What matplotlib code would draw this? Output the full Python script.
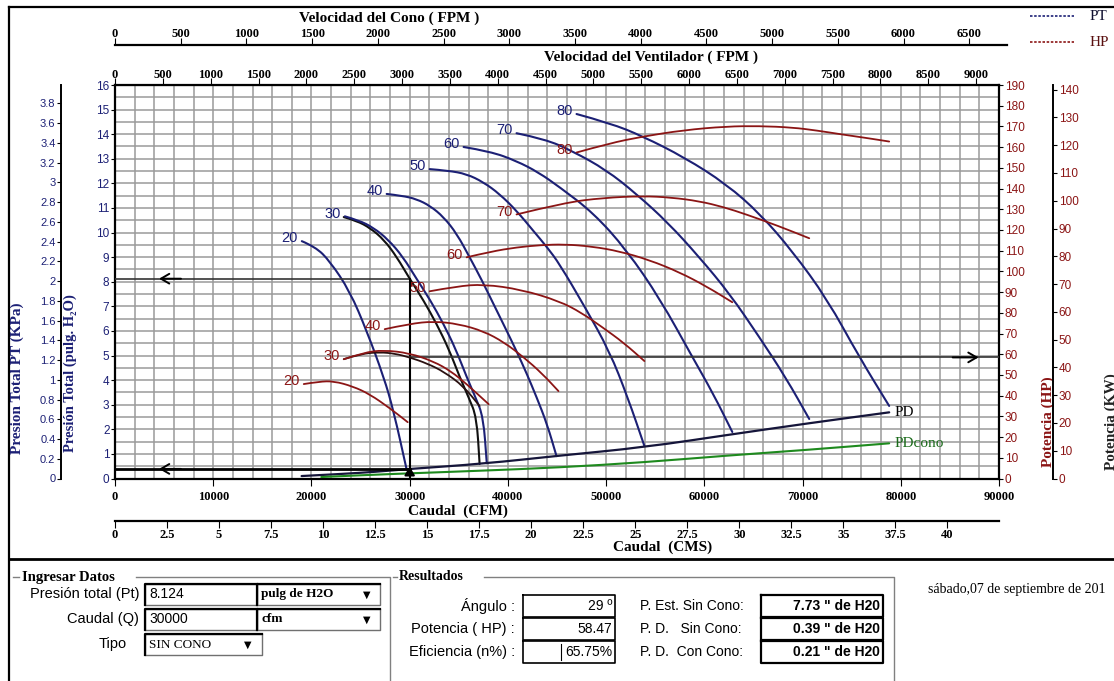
import numpy as np
import matplotlib.pyplot as plt
from matplotlib.path import Path
from matplotlib.patches import PathPatch

# curvas de presion total: caudal (cfm) vs presion (pulg H2O)
pt20_q = [19020, 20400, 21870, 23900, 25630, 27360, 28370, 29700]
pt20_p = [9.65, 9.42, 8.84, 7.62, 6.00, 4.13, 2.74, 0.35]
pt29_q = [23290, 24600, 26000, 27400, 28700, 30000, 31400, 32750, 34000, 35090, 36000, 36820, 37120]
pt29_p = [10.63, 10.48, 10.18, 9.70, 9.00, 8.12, 7.25, 6.28, 5.25, 4.13, 3.30, 2.50, 0.59]
pt30_q = [23400, 24800, 26300, 27800, 29300, 30700, 32100, 33450, 34700, 35800, 36700, 37500, 37850]
pt30_p = [10.66, 10.50, 10.20, 9.72, 9.02, 8.12, 7.25, 6.28, 5.25, 4.13, 3.30, 2.50, 0.62]
pt40_q = [27660, 29200, 30710, 32100, 33460, 34800, 36100, 37300, 38540, 39700, 40880, 41900, 42920, 44000, 44950]
pt40_p = [11.57, 11.50, 11.36, 11.08, 10.63, 9.95, 9.00, 8.10, 7.09, 6.15, 5.18, 4.28, 3.31, 2.20, 0.91]
pt50_q = [32040, 33900, 35800, 37500, 39150, 40900, 42610, 44000, 45260, 47800, 50340, 52200, 53900]
pt50_p = [12.58, 12.52, 12.38, 12.05, 11.57, 10.88, 10.06, 9.40, 8.72, 7.00, 5.18, 3.30, 1.32]
pt60_q = [35490, 38200, 40880, 43100, 45260, 48700, 52070, 55500, 58780, 60900, 62850]
pt60_p = [13.48, 13.30, 12.91, 12.45, 11.85, 10.80, 9.30, 7.30, 4.94, 3.45, 1.89]
pt70_q = [40880, 43800, 46580, 50000, 53090, 56300, 59490, 62600, 65600, 68300, 70680]
pt70_p = [14.04, 13.80, 13.31, 12.55, 11.57, 10.40, 9.00, 7.50, 5.75, 4.10, 2.42]
pt80_q = [46990, 50400, 53700, 58000, 62240, 65700, 68950, 72500, 75770, 78820]
pt80_p = [14.82, 14.45, 13.92, 13.05, 11.97, 10.75, 9.25, 7.30, 4.94, 2.95]

# curvas de potencia: caudal (cfm) vs HP
hp20_q = [19220, 20800, 22270, 24200, 25930, 27970, 29800]
hp20_v = [45.6, 46.8, 47.0, 44.5, 40.7, 34.0, 27.2]
hp29_q = [23290, 25000, 26950, 28500, 30000, 31800, 33500, 35500, 37120]
hp29_v = [57.6, 60.2, 61.0, 60.3, 58.5, 55.5, 51.5, 44.5, 35.0]
hp30_q = [23290, 25300, 27360, 30000, 32440, 34200, 35800, 38040]
hp30_v = [57.6, 60.8, 62.0, 60.5, 56.5, 51.8, 45.6, 35.9]
hp40_q = [27460, 30000, 32440, 35000, 37530, 39600, 41600, 43500, 45150]
hp40_v = [72.1, 74.7, 75.9, 74.6, 71.1, 65.8, 58.6, 50.6, 42.2]
hp50_q = [32040, 34800, 37530, 41400, 45260, 47500, 49630, 51800, 53900]
hp50_v = [90.4, 92.8, 93.8, 91.2, 85.6, 80.0, 73.0, 65.5, 56.7]
hp60_q = [35800, 38300, 40880, 43300, 45770, 48600, 51360, 54400, 57460, 60200, 62850]
hp60_v = [106.8, 109.6, 111.6, 112.7, 113.1, 112.0, 109.7, 105.5, 99.6, 92.8, 85.1]
hp70_q = [40880, 45770, 49700, 53700, 56600, 59490, 62000, 64270, 67500, 70680]
hp70_v = [127.5, 133.2, 135.5, 136.4, 135.7, 133.9, 131.0, 127.5, 122.0, 116.0]
hp80_q = [46990, 50300, 53700, 57900, 62240, 65600, 68950, 71500, 74040, 76400, 78820]
hp80_v = [157.4, 161.8, 165.1, 168.2, 170.0, 170.2, 169.5, 168.0, 166.1, 164.5, 162.7]

# presion dinamica sin cono / con cono
pd_q = [19000, 22880, 26500, 30000, 37500, 45260, 53900, 62850, 70680, 78820]
pd_p = [0.10, 0.18, 0.27, 0.39, 0.60, 0.93, 1.27, 1.80, 2.25, 2.69]
pdc_q = [21000, 25500, 30000, 37500, 45260, 53900, 62240, 70680, 78820]
pdc_p = [0.06, 0.14, 0.21, 0.32, 0.45, 0.66, 0.93, 1.17, 1.43]

# punto de operacion
q_op = 30000
pt_op = 8.124
hp_op = 58.47
pd_op = 0.39

# formulario
entrada_labels = ['Presión total (Pt)', 'Caudal (Q)', 'Tipo']
entrada_values = ['8.124', '30000', 'SIN CONO']
entrada_units = ['pulg de H2O', 'cfm']
result_labels = ['Ángulo :', 'Potencia ( HP) :', 'Eficiencia (n%) :']
result_values = ['29 º', '58.47', '65.75%']
presion_labels = ['P. Est. Sin Cono:', 'P. D.   Sin Cono:', 'P. D.  Con Cono:']
presion_values = ['7.73 " de H20', '0.39 " de H20', '0.21 " de H20']
fecha = 'sábado,07 de septiembre de 201'

IN_TO_KPA = 0.249089
HP_TO_KW = 0.7457
CFM_TO_CMS = 0.000471947
AREA_VENT = 9.74   # ft2
AREA_CONO = 13.38  # ft2

NAVY = '#1c2075'
RED = '#8b1515'
GREEN = '#1e8a1e'
SERIF = 'Liberation Serif'
SANS = 'Liberation Sans'

W, H = 1114, 681
fig = plt.figure(figsize=(W / 100, H / 100), dpi=100)
fig.patch.set_facecolor('white')


def rect(x0, y0, x1, y1):
    return [x0 / W, 1 - y1 / H, (x1 - x0) / W, (y1 - y0) / H]


def smooth(axis, q, v, **kw):
    # curva suave por los puntos medios (bezier cuadratica)
    pts = list(zip(q, v))
    verts = [pts[0]]
    codes = [Path.MOVETO]
    for i in range(1, len(pts) - 1):
        mid = ((pts[i][0] + pts[i + 1][0]) / 2, (pts[i][1] + pts[i + 1][1]) / 2)
        verts += [pts[i], mid]
        codes += [Path.CURVE3, Path.CURVE3]
    verts.append(pts[-1])
    codes.append(Path.LINETO)
    axis.add_patch(PathPatch(Path(verts, codes), fill=False, capstyle='round', **kw))


ui = fig.add_axes([0, 0, 1, 1], zorder=0)
ui.set_xlim(0, W)
ui.set_ylim(H, 0)
ui.axis('off')

L, R, T, B = 115, 999, 85, 478.5

# ---- grafico principal ----
ax = fig.add_axes(rect(L, T, R, B), zorder=3)
ax.set_xlim(0, 90000)
ax.set_ylim(0, 16)
ax.set_xticks(np.arange(0, 90001, 10000))
ax.set_xticks(np.arange(0, 90001, 2000), minor=True)
ax.set_yticks(np.arange(0, 17, 1))
ax.set_yticks(np.arange(0, 16.01, 0.5), minor=True)
ax.grid(which='both', color='#9a9a9a', lw=1.1, zorder=0)
ax.set_axisbelow(True)
ax.tick_params(which='minor', length=0)
ax.set_xticklabels([str(v) for v in range(0, 90001, 10000)], fontfamily=SERIF,
                   fontweight='bold', fontsize=9)
ax.set_yticklabels([str(v) for v in range(17)], fontfamily=SANS, fontsize=8.5, color=NAVY)
ax.tick_params(axis='x', length=5, pad=4)
ax.tick_params(axis='y', length=3, pad=1)
for s in ax.spines.values():
    s.set_linewidth(1.6)

pt_curves = [(20, pt20_q, pt20_p), (29, pt29_q, pt29_p), (30, pt30_q, pt30_p),
             (40, pt40_q, pt40_p), (50, pt50_q, pt50_p), (60, pt60_q, pt60_p),
             (70, pt70_q, pt70_p), (80, pt80_q, pt80_p)]
for ang, q, p in pt_curves:
    c = '#111111' if ang == 29 else NAVY
    smooth(ax, q, p, edgecolor=c, lw=1.5, zorder=4)
    if ang != 29:
        ax.annotate(str(ang), (q[0], p[0]), xytext=(-3, 2), textcoords='offset points',
                    ha='right', va='center', fontsize=10.5, color=NAVY, family=SANS)

smooth(ax, pd_q, pd_p, edgecolor='#15153a', lw=1.6, zorder=4)
smooth(ax, pdc_q, pdc_p, edgecolor=GREEN, lw=1.5, zorder=4)
ax.text(pd_q[-1] + 500, pd_p[-1], 'PD', fontsize=11, family=SERIF, va='center', zorder=5)
ax.text(pdc_q[-1] + 500, pdc_p[-1], 'PDcono', fontsize=11, family=SERIF, color='#1a6a1a',
        va='center', zorder=5)

# lineas del punto de operacion
ax.plot([0, q_op], [pt_op, pt_op], color='#333333', lw=1.2, zorder=5)
ax.plot([0, q_op], [pd_op, pd_op], color='k', lw=2, zorder=5)
ax.plot([q_op, q_op], [0, pt_op], color='k', lw=1.5, zorder=5)
arrow = dict(arrowstyle='->,head_length=0.6,head_width=0.35', lw=1.4, color='k')
ax.annotate('', xy=(4200, pt_op), xytext=(7000, pt_op), arrowprops=arrow, zorder=6)
ax.annotate('', xy=(4200, pd_op), xytext=(7000, pd_op), arrowprops=arrow, zorder=6)
ax.annotate('', xy=(q_op, 0.6), xytext=(q_op, 0.02),
            arrowprops=dict(arrowstyle='-|>,head_length=0.5,head_width=0.3', lw=1.5, color='k'),
            zorder=6)

# ---- eje HP ----
axh = ax.twinx()
axh.set_zorder(4)
axh.set_ylim(0, 190)
axh.set_yticks(np.arange(0, 191, 10))
axh.set_yticklabels([str(v) for v in range(0, 191, 10)], fontfamily=SANS, fontsize=8.5, color=RED)
axh.tick_params(axis='y', length=3, pad=1)
for s in axh.spines.values():
    s.set_visible(False)
hp_curves = [(20, hp20_q, hp20_v), (29, hp29_q, hp29_v), (30, hp30_q, hp30_v),
             (40, hp40_q, hp40_v), (50, hp50_q, hp50_v), (60, hp60_q, hp60_v),
             (70, hp70_q, hp70_v), (80, hp80_q, hp80_v)]
for ang, q, v in hp_curves:
    c = '#2a1010' if ang == 29 else RED
    smooth(axh, q, v, edgecolor=c, lw=1.3, zorder=4)
    if ang != 29:
        axh.annotate(str(ang), (q[0], v[0]), xytext=(-3, 2), textcoords='offset points',
                     ha='right', va='center', fontsize=10.5, color=RED, family=SANS)
axh.plot([q_op, 90000], [hp_op, hp_op], color='#333333', lw=1.2)
axh.annotate('', xy=(88200, hp_op), xytext=(85000, hp_op), arrowprops=arrow)

# ---- arriba: velocidad del ventilador ----
sec = ax.secondary_xaxis('top', functions=(lambda q: q / AREA_VENT, lambda v: v * AREA_VENT))
sec.set_ticks(np.arange(0, 9001, 500), labels=[str(v) for v in range(0, 9001, 500)],
              fontfamily=SERIF, fontweight='bold', fontsize=9)
sec.tick_params(length=5, pad=-2)

# ---- velocidad del cono ----
axc = fig.add_axes(rect(L, 45, 1007, 45.4), zorder=3)
axc.set_xlim(0, 90000 * (1007 - L) / (R - L) / AREA_CONO)
axc.set_ylim(0, 1)
axc.set_yticks([])
for k in ['left', 'right', 'bottom']:
    axc.spines[k].set_visible(False)
axc.spines['top'].set_linewidth(1.6)
axc.xaxis.tick_top()
axc.set_xticks(np.arange(0, 6501, 500), labels=[str(v) for v in range(0, 6501, 500)],
               fontfamily=SERIF, fontweight='bold', fontsize=9)
axc.tick_params(length=5, pad=-1.5)

# ---- abajo: caudal CMS ----
axm = fig.add_axes(rect(L, 520.6, R, 521), zorder=3)
axm.set_xlim(0, 90000 * CFM_TO_CMS)
axm.set_ylim(0, 1)
axm.set_yticks([])
for k in ['left', 'right', 'top']:
    axm.spines[k].set_visible(False)
axm.spines['bottom'].set_linewidth(1.6)
cms_ticks = np.arange(0, 40.01, 2.5)
axm.set_xticks(cms_ticks, labels=['%g' % v for v in cms_ticks], fontfamily=SERIF,
               fontweight='bold', fontsize=9)
axm.tick_params(length=5, pad=1)

# ---- izquierda: KPa ----
axk = fig.add_axes(rect(61, T, 62, B), zorder=3)
axk.set_ylim(0, 16 * IN_TO_KPA)
axk.set_xticks([])
for k in ['right', 'top', 'bottom']:
    axk.spines[k].set_visible(False)
axk.spines['left'].set_linewidth(1.4)
kpa_ticks = np.round(np.arange(0, 3.81, 0.2), 1)
axk.set_yticks(kpa_ticks, labels=['%g' % v for v in kpa_ticks], fontfamily=SANS, fontsize=8,
               color=NAVY)
axk.tick_params(length=3, pad=1)

# ---- derecha: KW ----
axw = fig.add_axes(rect(1000, T, 1053, B), zorder=3)
axw.patch.set_alpha(0)
axw.set_ylim(0, 190 * HP_TO_KW)
axw.set_xticks([])
for k in ['left', 'top', 'bottom']:
    axw.spines[k].set_visible(False)
axw.spines['right'].set_linewidth(1.4)
axw.yaxis.tick_right()
axw.set_yticks(np.arange(0, 141, 10), labels=[str(v) for v in range(0, 141, 10)],
               fontfamily=SANS, fontsize=8.5, color=RED)
axw.tick_params(length=3, pad=1)

# ---- titulos ----
tb = dict(family=SERIF, fontweight='bold', fontsize=11)
ui.text(389, 18, 'Velocidad del Cono ( FPM )', ha='center', va='center', **tb)
ui.text(651, 57, 'Velocidad del Ventilador ( FPM )', ha='center', va='center', **tb)
ui.text(458, 511, 'Caudal  (CFM)', ha='center', va='center', **tb)
ui.text(663, 547, 'Caudal  (CMS)', ha='center', va='center', **tb)
ui.text(17, 378, 'Presion Total PT (KPa)', rotation=90, ha='center', va='center', color=NAVY, **tb)
ui.text(70, 373, 'Presión Total (pulg. H₂O)', rotation=90, ha='center', va='center',
        color=NAVY, family=[SERIF, 'DejaVu Serif'], fontweight='bold', fontsize=10.5)
ui.text(1048, 422, 'Potencia (HP)', rotation=90, ha='center', va='center', color=RED, **tb)
ui.text(1111, 422, 'Potencia (KW)', rotation=90, ha='center', va='center', color='#222222', **tb)

# leyenda
ui.plot([1030, 1074], [16, 16], color=NAVY, lw=1.2, ls=(0, (1.5, 1)))
ui.plot([1030, 1074], [42, 42], color=RED, lw=1.2, ls=(0, (1.5, 1)))
ui.text(1090, 16, 'PT', family=SERIF, fontsize=11, va='center', color='#101030')
ui.text(1090, 42, 'HP', family=SERIF, fontsize=11, va='center', color='#5a1010')

# marco
ui.plot([9, W], [7, 7], color='k', lw=1.6)
ui.plot([9, 9], [7, H], color='k', lw=1.6)
ui.plot([9, W], [559, 559], color='k', lw=2)

# ---- panel inferior ----
g = '#808080'
ui.plot([13, 19], [577, 577], color=g, lw=1)
ui.plot([136, 390, 390], [577, 577, H], color=g, lw=1)
ui.text(22, 577, 'Ingresar Datos', family=SERIF, fontweight='bold', fontsize=10.5, va='center')
ui.plot([393, 397], [577, 577], color=g, lw=1)
ui.plot([484, 894, 894], [577, 577, H], color=g, lw=1)
ui.text(399, 577, 'Resultados', family=SERIF, fontweight='bold', fontsize=10, va='center')


def field(x0, y0, x1, y1):
    ui.plot([x0, x1, x1, x0, x0], [y0, y0, y1, y1, y0], color='#707070', lw=1)
    ui.plot([x0, x0, x1], [y1, y0, y0], color='k', lw=1.6)


rows_in = [594, 619, 644]
for i, (lab, val) in enumerate(zip(entrada_labels, entrada_values)):
    y = rows_in[i]
    xr = 127 if i == 2 else 139
    ui.text(xr, y, lab, ha='right', va='center', family=SANS, fontsize=10.5)
    if i < 2:
        field(145, y - 10, 257, y + 11)
        ui.text(149, y, val, va='center', family=SANS, fontsize=10)
        field(257, y - 10, 380, y + 11)
        ui.text(261, y, entrada_units[i], va='center', family=SERIF, fontweight='bold',
                fontsize=9.5)
        ui.text(367, y + 1, '▼', ha='center', va='center', fontsize=7, family='DejaVu Sans')
    else:
        field(145, y - 10, 262, y + 11)
        ui.text(149, y + 1, val, va='center', family=SERIF, fontsize=9.5)
        ui.text(248, y + 1, '▼', ha='center', va='center', fontsize=7, family='DejaVu Sans')

rows_out = [606, 629, 652]
for i in range(3):
    y = rows_out[i]
    ui.text(515, y, result_labels[i], ha='right', va='center', family=SANS, fontsize=10.5)
    ui.plot([523, 615, 615, 523, 523], [y - 11, y - 11, y + 11, y + 11, y - 11], color='k', lw=1.2)
    ui.text(612, y, result_values[i], ha='right', va='center', family=SANS, fontsize=10)
    ui.text(640, y, presion_labels[i], ha='left', va='center', family=SANS, fontsize=10)
    ui.plot([761, 883, 883, 761, 761], [y - 11, y - 11, y + 11, y + 11, y - 11], color='k', lw=1.6)
    ui.text(880, y, presion_values[i], ha='right', va='center', family=SANS,
            fontweight='bold', fontsize=10)
ui.plot([561, 561], [rows_out[2] - 8, rows_out[2] + 8], color='k', lw=0.8)

ui.text(928, 590, fecha, va='center', family=SERIF, fontsize=10)

fig.savefig('out.png', dpi=100)
